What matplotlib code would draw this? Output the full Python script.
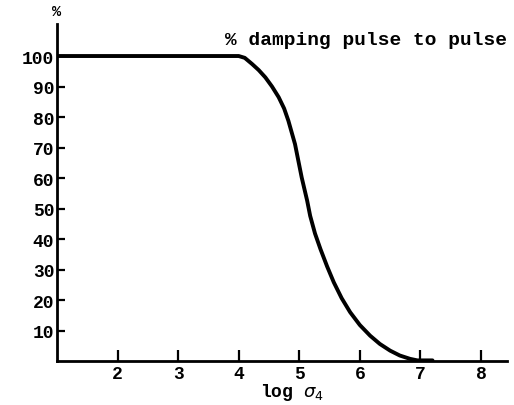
import matplotlib
matplotlib.use('Agg')
import matplotlib.pyplot as plt

# curve
log_c4 = [1.0, 3.5, 4.0, 4.1, 4.22, 4.33, 4.44, 4.55, 4.66, 4.75, 4.82, 4.93, 5.04, 5.13, 5.18, 5.26, 5.35,
          5.46, 5.57, 5.7, 5.84, 6.0, 6.17, 6.33, 6.5, 6.66, 6.83, 6.95, 7.2]
damping = [100, 100, 100, 99.4, 97.4, 95.4, 93.0, 90.0, 86.5, 82.8, 78.8, 71.1, 60.2, 52.6, 47.6, 41.8, 36.7,
           31.0, 25.8, 20.6, 16.0, 11.8, 8.3, 5.6, 3.4, 1.8, 0.7, 0.2, 0.2]

xticks = [2, 3, 4, 5, 6, 7, 8]
yticks = [10, 20, 30, 40, 50, 60, 70, 80, 90, 100]

font = {'family': 'Liberation Mono', 'weight': 'bold'}

fig = plt.figure(figsize=(5.14, 4.06), dpi=100)
ax = fig.add_axes([57/514, 44/406, 450/514, 337/406])

ax.plot(log_c4, damping, color='black', linewidth=2.8, solid_capstyle='round', solid_joinstyle='round')

ax.set_xlim(1, 8.43)
ax.set_ylim(0, 110.5)
for s in ['top', 'right']:
    ax.spines[s].set_visible(False)
for s in ['left', 'bottom']:
    ax.spines[s].set_linewidth(2)

ax.set_xticks(xticks)
ax.set_yticks(yticks)
ax.set_xticklabels([str(v) for v in xticks], fontdict=dict(font, size=13))
ax.set_yticklabels([str(v) for v in yticks], fontdict=dict(font, size=13))
ax.tick_params(axis='x', direction='in', length=8, width=1.6, pad=3)
ax.tick_params(axis='y', direction='in', length=6, width=1.6, pad=2)

ax.text(1.0, 0.955, '% damping pulse to pulse', transform=ax.transAxes,
        ha='right', va='center', fontdict=dict(font, size=14))
fig.text(57/514, 1 - 12/406, '%', ha='center', va='center', fontdict=dict(font, size=11))
fig.text(292/514, 1 - 393/406, r'log $\sigma_4$', ha='center', va='center', fontdict=dict(font, size=13))

fig.savefig('out.png', dpi=100)
